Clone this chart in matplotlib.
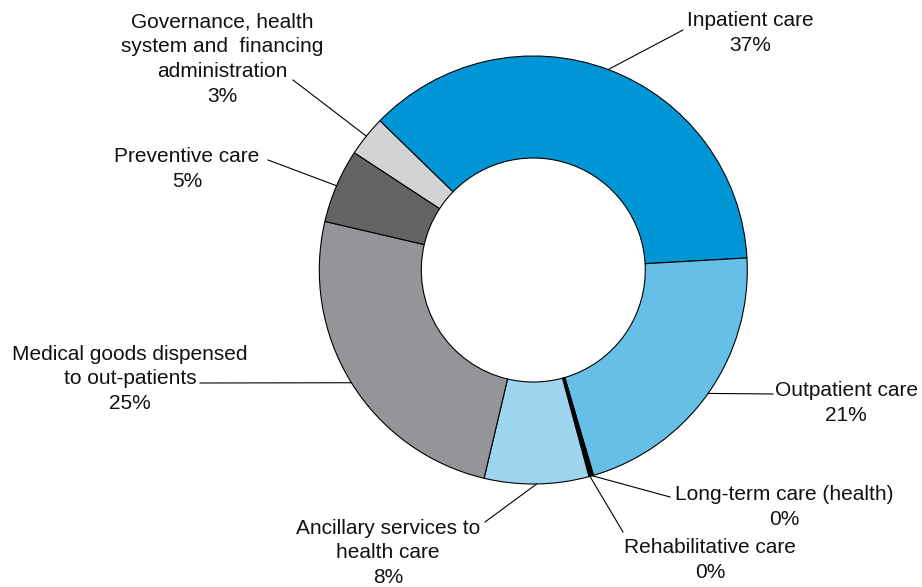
import numpy as np
import matplotlib
matplotlib.use('Agg')
import matplotlib.pyplot as plt

plt.rcParams['font.family'] = ['Liberation Sans', 'DejaVu Sans']

labels = ['Inpatient care\n37%',
          'Outpatient care\n21%',
          'Long-term care (health)\n0%',
          'Rehabilitative care\n0%',
          'Ancillary services to\nhealth care\n8%',
          'Medical goods dispensed\nto out-patients\n25%',
          'Preventive care\n5%',
          'Governance, health\nsystem and  financing\nadministration\n3%']
values = [36.9, 21.4, 0.2, 0.15, 7.9, 25.0, 5.6, 3.05]
colors = ['#0096d6', '#66bfe6', '#000000', '#000000',
          '#9dd5ef', '#939598', '#636466', '#d1d3d4']

# where each label block sits and where its leader line ends (pixels, y up)
label_xy = [(750, 554), (846, 184), (784, 80), (710, 27),
            (388, 34), (130, 208), (187, 418), (222, 528)]
line_end = [(683, 557), (773, 193), (670, 90), (623, 55),
            (485, 65), (200, 204), (268, 427), (293, 507)]

W, H = 922, 587
fig = plt.figure(figsize=(W / 100, H / 100), dpi=100)
ax = fig.add_axes([0, 0, 1, 1])

cx, cy, R = 533.3, 317, 214
wedges, _ = ax.pie(values, colors=colors, startangle=135.8, counterclock=False,
                   center=(cx, cy), radius=R,
                   wedgeprops=dict(width=102, edgecolor='black', linewidth=0.8))

for w, lab, (tx, ty), (ex, ey) in zip(wedges, labels, label_xy, line_end):
    mid = np.deg2rad((w.theta1 + w.theta2) / 2)
    px, py = cx + R * np.cos(mid), cy + R * np.sin(mid)
    ax.plot([px, ex], [py, ey], color='black', lw=0.8)
    ax.text(tx, ty, lab, ha='center', va='center', fontsize=15,
            linespacing=1.38, color='#111111')

ax.set_xlim(0, W)
ax.set_ylim(0, H)
ax.set_aspect('auto')
ax.axis('off')

plt.savefig('out.png', dpi=100)
